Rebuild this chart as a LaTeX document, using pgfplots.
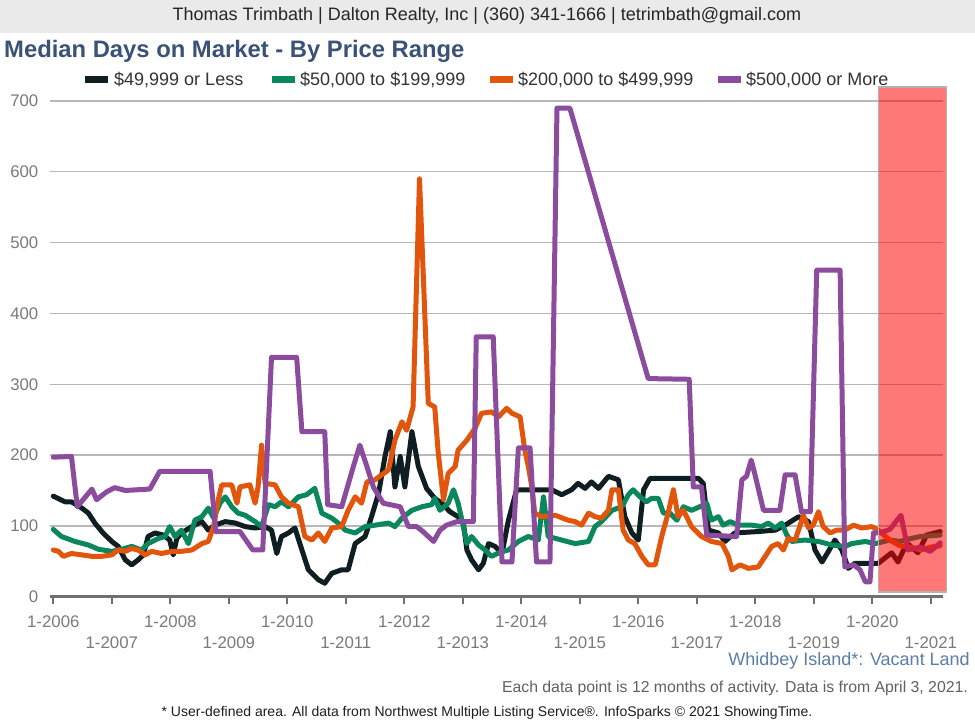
\documentclass[border=0pt]{standalone}
\usepackage{fontspec}
\setmainfont{Liberation Sans}
\usepackage{pgfplots}
\pgfplotsset{compat=1.18}
\definecolor{sBlack}{HTML}{0F1E22}
\definecolor{sGreen}{HTML}{0A875C}
\definecolor{sOrange}{HTML}{E2550C}
\definecolor{sPurple}{HTML}{8B4C9E}
\definecolor{headgray}{HTML}{EAEAEA}
\definecolor{titleblue}{HTML}{3A5277}
\definecolor{gridgray}{HTML}{B8B8B8}
\definecolor{axisgray}{HTML}{707070}
\definecolor{labelgray}{HTML}{7A7A7A}
\definecolor{areablue}{HTML}{5A7EA8}
\tikzset{
  series/.style={line width=5bp, line join=round, line cap=round, mark=none},
  legtext/.style={anchor=west, inner sep=0pt, text=black!80, font=\fontsize{18bp}{20bp}\selectfont},
}
\begin{document}
\begin{tikzpicture}[x=1bp,y=1bp]
\useasboundingbox (0,0) rectangle (975,725);
\fill[white] (0,0) rectangle (975,725);
%% header band and titles
\fill[headgray] (0,692) rectangle (975,725);
\node[inner sep=0pt, text=black!85, font=\fontsize{18bp}{20bp}\selectfont] at (487,709)
  {Thomas Trimbath | Dalton Realty, Inc | (360) 341-1666 | tetrimbath@gmail.com};
\node[anchor=west, inner sep=0pt, text=titleblue, font=\fontsize{23.8bp}{26bp}\selectfont\bfseries] at (4,674)
  {Median Days on Market - By Price Range};
%% legend
\fill[sBlack]  (85,641.5) rectangle (108,648.5);
\node[legtext] at (114,645) {\$49,999 or Less};
\fill[sGreen]  (272,641.5) rectangle (295,648.5);
\node[legtext] at (300,645) {\$50,000 to \$199,999};
\fill[sOrange] (490,641.5) rectangle (513,648.5);
\node[legtext] at (518,645) {\$200,000 to \$499,999};
\fill[sPurple] (718,641.5) rectangle (741,648.5);
\node[legtext] at (746,645) {\$500,000 or More};

\begin{axis}[
  at={(49.5bp,128.3bp)}, anchor=south west,
  scale only axis, width=893.8bp, height=495.7bp,
  xmin=2005.935, xmax=2021.214,
  ymin=0, ymax=700,
  axis x line=bottom, axis y line=left,
  x axis line style={draw=axisgray, line width=2.5bp, -},
  y axis line style={draw=none},
  ytick={0,100,...,700},
  ytick style={draw=none},
  xtick={2006,2008,2010,2012,2014,2016,2018,2020},
  xticklabels={1-2006,1-2008,1-2010,1-2012,1-2014,1-2016,1-2018,1-2020},
  extra x ticks={2007,2009,2011,2013,2015,2017,2019,2021},
  extra x tick labels={1-2007,1-2009,1-2011,1-2013,1-2015,1-2017,1-2019,1-2021},
  extra x tick style={tick label style={yshift=-21bp}},
  xtick style={draw=axisgray, line width=2bp},
  tick align=outside,
  major tick length=7bp,
  /pgf/number format/assume math mode=true,
  tick label style={font=\fontsize{16.8bp}{18bp}\selectfont, text=labelgray},
  yticklabel style={anchor=east, inner sep=0pt, xshift=-4bp},
  xticklabel style={anchor=north, inner sep=0pt, yshift=-12bp},
  ymajorgrids=true,
  grid style={draw=gridgray, line width=1.3bp},
  clip=false,
]
%% $49,999 or Less
\addplot[series, draw=sBlack] coordinates {
(2006.00,142) (2006.20,134) (2006.31,134) (2006.49,125) (2006.60,118) (2006.71,104)
(2006.85,90) (2007.00,78) (2007.11,71) (2007.23,52) (2007.34,45) (2007.45,52)
(2007.54,59) (2007.62,85) (2007.74,90) (2007.88,87) (2007.99,80) (2008.05,59)
(2008.11,82) (2008.19,90) (2008.37,99) (2008.54,106) (2008.65,94) (2008.76,101)
(2008.94,106) (2009.11,104) (2009.28,99) (2009.45,97) (2009.62,99) (2009.73,94)
(2009.82,61) (2009.90,85) (2010.02,90) (2010.13,97) (2010.25,66) (2010.36,38)
(2010.53,24) (2010.64,19) (2010.76,33) (2010.93,38) (2011.04,38) (2011.16,75)
(2011.33,85) (2011.44,113) (2011.56,146) (2011.67,198) (2011.76,233) (2011.84,155)
(2011.93,198) (2012.01,155) (2012.13,233) (2012.24,184) (2012.38,153) (2012.52,139)
(2012.64,132) (2012.78,120) (2012.92,113) (2013.01,104) (2013.07,66) (2013.15,52)
(2013.27,38) (2013.35,47) (2013.44,75) (2013.55,71) (2013.67,61) (2013.78,108)
(2013.92,151) (2014.06,151) (2014.52,151) (2014.69,144) (2014.86,151) (2014.97,160)
(2015.09,153) (2015.20,162) (2015.32,153) (2015.49,170) (2015.66,165) (2015.77,113)
(2015.89,90) (2016.00,80) (2016.09,151) (2016.20,167) (2017.03,167) (2017.11,160)
(2017.20,94) (2017.37,90) (2017.48,78) (2017.65,90) (2018.05,92) (2018.34,94)
(2018.51,101) (2018.74,113) (2018.91,106) (2019.02,66) (2019.14,49) (2019.25,64)
(2019.36,80) (2019.48,66) (2019.59,40) (2019.70,47) (2020.10,47) (2020.33,62)
(2020.44,49) (2020.59,76) (2020.78,62) (2020.93,87) (2021.16,92)
};
%% $50,000 to $199,999
\addplot[series, draw=sGreen] coordinates {
(2006.00,95) (2006.14,85) (2006.37,78) (2006.60,73) (2006.77,67) (2007.00,64)
(2007.17,67) (2007.34,71) (2007.51,66) (2007.62,75) (2007.79,82) (2007.91,85)
(2007.99,99) (2008.08,85) (2008.19,94) (2008.31,75) (2008.42,108) (2008.54,113)
(2008.65,125) (2008.74,111) (2008.85,132) (2008.94,141) (2009.05,127) (2009.16,118)
(2009.28,115) (2009.45,106) (2009.56,99) (2009.68,130) (2009.79,127) (2009.90,134)
(2010.02,127) (2010.19,141) (2010.33,144) (2010.47,153) (2010.59,118) (2010.76,111)
(2010.87,104) (2010.99,94) (2011.16,90) (2011.33,99) (2011.50,101) (2011.73,104)
(2011.84,99) (2011.96,111) (2012.13,122) (2012.30,127) (2012.47,130) (2012.52,139)
(2012.61,122) (2012.75,132) (2012.84,151) (2012.92,132) (2013.01,99) (2013.07,75)
(2013.15,85) (2013.27,73) (2013.38,66) (2013.49,57) (2013.67,64) (2013.78,66)
(2013.95,78) (2014.12,85) (2014.29,80) (2014.38,141) (2014.46,85) (2014.69,80)
(2014.92,75) (2015.15,78) (2015.26,99) (2015.37,106) (2015.55,122) (2015.72,127)
(2015.83,144) (2015.91,151) (2016.03,141) (2016.14,134) (2016.23,139) (2016.34,139)
(2016.43,118) (2016.54,118) (2016.66,108) (2016.77,127) (2016.91,122) (2017.05,127)
(2017.17,132) (2017.25,108) (2017.37,113) (2017.45,101) (2017.57,106) (2017.71,101)
(2017.94,101) (2018.11,99) (2018.22,104) (2018.34,97) (2018.45,104) (2018.54,87)
(2018.62,78) (2018.85,80) (2019.08,78) (2019.31,73) (2019.53,71) (2019.65,75)
(2019.88,78) (2020.05,75) (2020.30,80) (2020.47,78) (2020.65,82) (2020.82,85)
(2021.16,87)
};
%% $200,000 to $499,999
\addplot[series, draw=sOrange] coordinates {
(2006.00,66) (2006.09,64) (2006.17,57) (2006.31,61) (2006.49,59) (2006.66,57)
(2006.83,57) (2007.00,59) (2007.11,66) (2007.23,64) (2007.34,68) (2007.45,66)
(2007.57,59) (2007.68,64) (2007.85,61) (2008.02,64) (2008.19,64) (2008.37,66)
(2008.54,75) (2008.65,78) (2008.74,99) (2008.82,137) (2008.88,158) (2009.05,158)
(2009.14,132) (2009.19,155) (2009.36,158) (2009.45,132) (2009.50,155) (2009.56,214)
(2009.62,160) (2009.79,158) (2009.90,141) (2010.02,132) (2010.19,127) (2010.30,85)
(2010.42,80) (2010.53,90) (2010.64,78) (2010.76,97) (2010.93,99) (2011.04,122)
(2011.16,141) (2011.27,132) (2011.36,162) (2011.50,165) (2011.58,170) (2011.73,179)
(2011.84,221) (2011.96,247) (2012.04,235) (2012.15,268) (2012.26,590) (2012.41,273)
(2012.52,268) (2012.58,203) (2012.67,137) (2012.75,174) (2012.87,184) (2012.92,207)
(2013.07,221) (2013.21,238) (2013.32,259) (2013.49,261) (2013.61,254) (2013.75,266)
(2013.84,259) (2013.98,254) (2014.06,207) (2014.12,184) (2014.18,155) (2014.23,118)
(2014.35,113) (2014.58,115) (2014.80,108) (2014.92,106) (2015.03,101) (2015.15,118)
(2015.26,113) (2015.37,111) (2015.49,122) (2015.55,151) (2015.66,151) (2015.74,94)
(2015.83,80) (2015.94,75) (2016.06,57) (2016.17,45) (2016.29,45) (2016.40,85)
(2016.51,118) (2016.60,151) (2016.68,113) (2016.77,122) (2016.91,99) (2017.08,85)
(2017.25,78) (2017.43,75) (2017.54,57) (2017.60,38) (2017.74,45) (2017.88,40)
(2018.05,42) (2018.17,57) (2018.28,71) (2018.39,75) (2018.48,66) (2018.56,82)
(2018.68,80) (2018.76,99) (2018.82,115) (2018.91,97) (2018.99,101) (2019.08,120)
(2019.16,99) (2019.28,90) (2019.39,94) (2019.53,94) (2019.68,101) (2019.82,97)
(2019.99,99) (2020.10,94) (2020.30,80) (2020.47,72) (2020.65,70) (2020.82,66)
(2020.99,70) (2021.16,72)
};
%% $500,000 or More
\addplot[series, draw=sPurple] coordinates {
(2006.00,197) (2006.31,198) (2006.41,127) (2006.66,152) (2006.74,137) (2006.91,148)
(2007.05,154) (2007.23,150) (2007.65,152) (2007.82,177) (2008.68,177) (2008.78,92)
(2009.19,92) (2009.41,66) (2009.58,66) (2009.73,338) (2010.16,338) (2010.25,233)
(2010.64,233) (2010.69,130) (2010.93,127) (2011.13,184) (2011.24,214) (2011.36,184)
(2011.47,155) (2011.64,132) (2011.93,127) (2012.07,99) (2012.21,99) (2012.32,92)
(2012.50,78) (2012.61,94) (2012.72,101) (2012.90,106) (2013.18,106) (2013.23,367)
(2013.52,367) (2013.67,49) (2013.84,49) (2013.95,210) (2014.15,210) (2014.26,49)
(2014.49,49) (2014.61,690) (2014.83,690) (2016.17,308) (2016.87,307) (2016.94,155)
(2017.08,155) (2017.17,87) (2017.68,85) (2017.77,165) (2017.85,170) (2017.93,193)
(2017.99,174) (2018.14,122) (2018.42,122) (2018.51,172) (2018.68,172) (2018.79,120)
(2018.94,120) (2019.05,461) (2019.45,461) (2019.53,42) (2019.68,45) (2019.79,38)
(2019.88,21) (2019.96,21) (2020.02,90) (2020.13,90) (2020.30,95) (2020.49,115)
(2020.61,66) (2020.82,70) (2020.99,64) (2021.16,76)
};
\end{axis}
%% user-defined highlight area over the last year
\filldraw[fill=red, fill opacity=0.53, draw=black!30, line width=1.5bp]
  (878.3,133) rectangle (946.7,638);
%% footer texts
\node[anchor=east, inner sep=0pt, text=areablue, font=\fontsize{18bp}{20bp}\selectfont] at (970,64)
  {Whidbey Island*: Vacant Land};
\node[anchor=east, inner sep=0pt, text=black!62, font=\fontsize{15.8bp}{18bp}\selectfont] at (968,37)
  {Each data point is 12 months of activity. Data is from April 3, 2021.};
\node[inner sep=0pt, text=black!88, font=\fontsize{14bp}{16bp}\selectfont] at (487,12)
  {* User-defined area. All data from Northwest Multiple Listing Service\textregistered. InfoSparks \textcopyright{} 2021 ShowingTime.};
\end{tikzpicture}
\end{document}
